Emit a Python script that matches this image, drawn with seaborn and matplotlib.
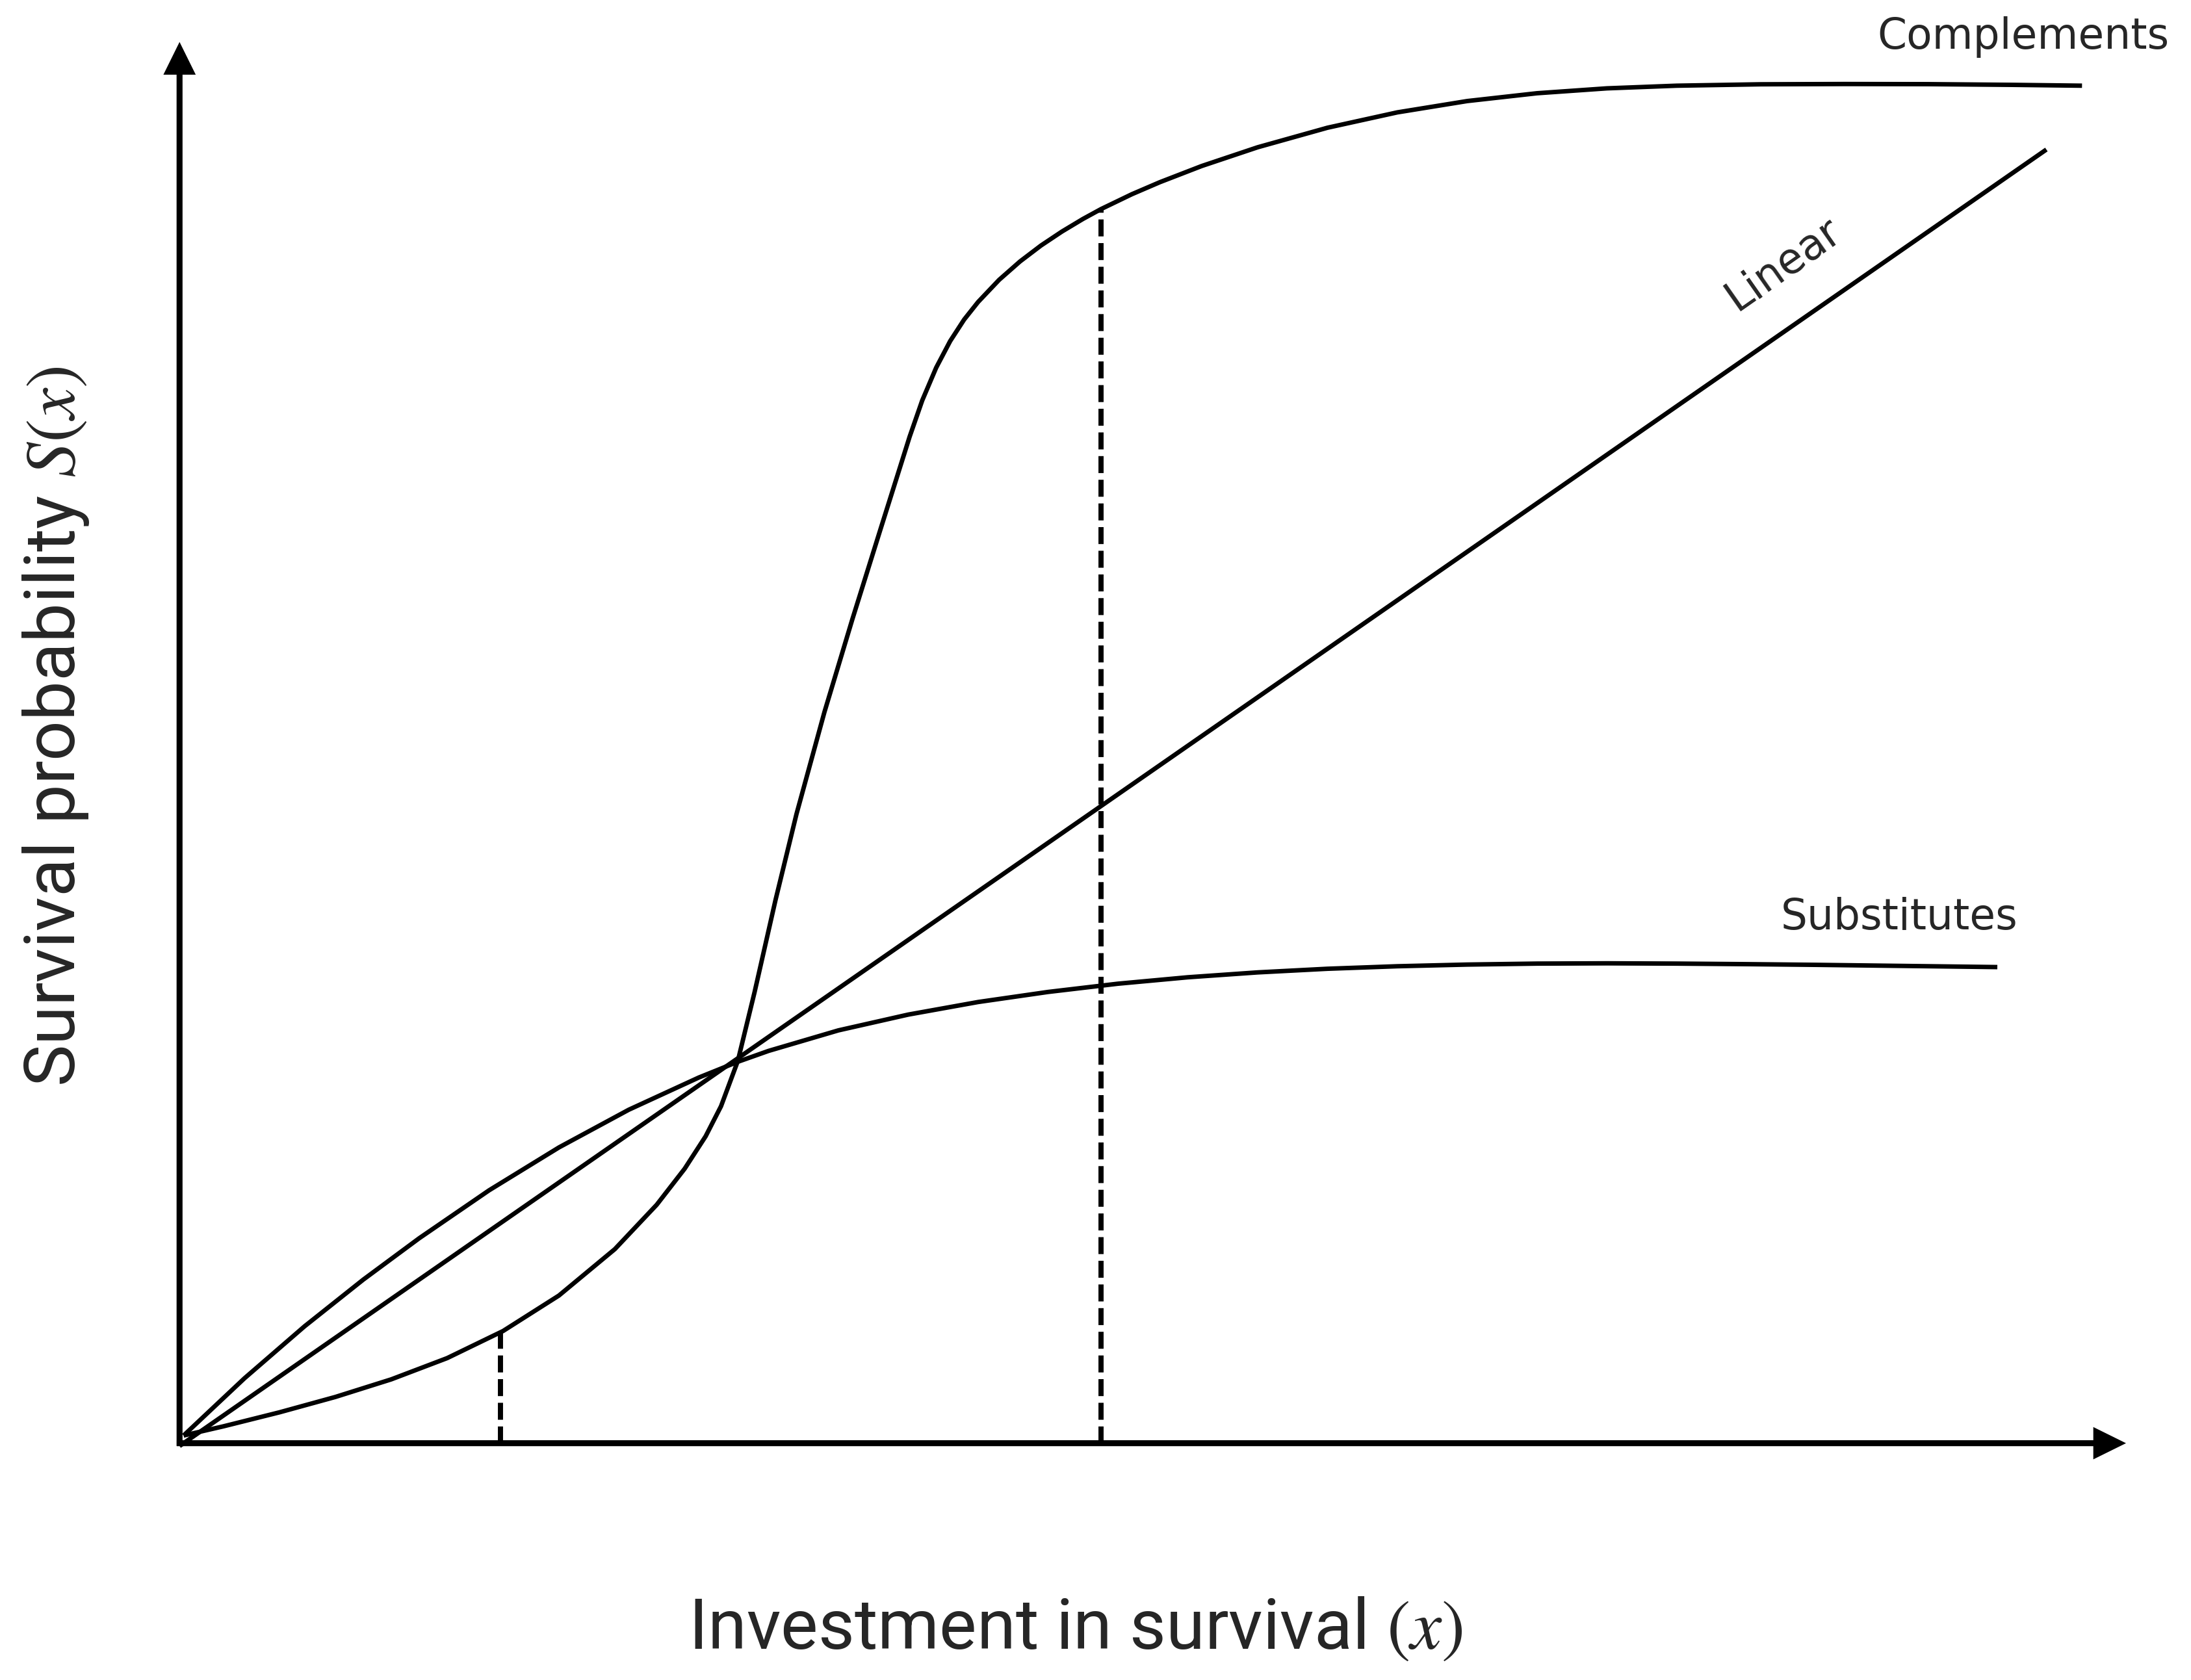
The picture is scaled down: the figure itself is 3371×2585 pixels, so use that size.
import numpy as np
import pandas as pd
import matplotlib
matplotlib.use("Agg")
import matplotlib.pyplot as plt
import seaborn as sns

# ---------------- data (schematic values) ----------------
comp_x = [0.029, 0.315, 0.715, 1.115, 1.515, 1.915, 2.315, 2.715, 3.115, 3.415,
          3.615, 3.765, 3.875, 3.995, 4.115, 4.265, 4.415, 4.615, 4.815, 5.015,
          5.225, 5.315, 5.415, 5.515, 5.615, 5.715, 5.865, 6.015, 6.165, 6.315,
          6.465, 6.595, 6.815, 7.015, 7.315, 7.715, 8.215, 8.715, 9.215, 9.715,
          10.215, 10.715, 11.315, 11.915, 12.515, 13.115, 13.615]
comp_y = [0.055, 0.121, 0.221, 0.331, 0.457, 0.609, 0.803, 1.057, 1.389, 1.707,
          1.965, 2.197, 2.412, 2.735, 3.228, 3.888, 4.503, 5.233, 5.898, 6.538,
          7.205, 7.464, 7.699, 7.889, 8.043, 8.169, 8.327, 8.459, 8.573, 8.673,
          8.763, 8.834, 8.940, 9.026, 9.142, 9.276, 9.416, 9.526, 9.607, 9.663,
          9.698, 9.717, 9.727, 9.729, 9.728, 9.723, 9.717]

lin_x = [0.0, 13.36]
lin_y = [-0.02, 9.26]

subs_x = [0.029, 0.465, 0.895, 1.315, 1.715, 2.215, 2.715, 3.215, 3.715, 3.995,
          4.215, 4.715, 5.215, 5.715, 6.215, 6.715, 7.215, 7.715, 8.215, 8.715,
          9.215, 9.715, 10.215, 10.715, 11.215, 11.715, 12.365, 13.009]
subs_y = [0.055, 0.465, 0.837, 1.171, 1.467, 1.810, 2.117, 2.387, 2.617, 2.730,
          2.808, 2.955, 3.068, 3.158, 3.230, 3.289, 3.335, 3.370, 3.396, 3.414,
          3.426, 3.433, 3.435, 3.433, 3.429, 3.424, 3.416, 3.408]

dash_x = [2.295, 6.595]
dash_top = [0.79, 8.834]

curve_names = ["Complements", "Linear", "Substitutes"]
x_label = "Investment in survival $(x)$"
y_label = "Survival probability $S(x)$"

# ---------------- figure ----------------
sns.set_theme(style="white")
plt.rcParams["font.family"] = ["DejaVu Sans"]
plt.rcParams["mathtext.fontset"] = "stix"

fig = plt.figure(figsize=(3371 / 300, 2586 / 300), dpi=300)
ax = fig.add_axes([0, 0, 1, 1])

df = pd.concat([
    pd.DataFrame({"x": comp_x, "y": comp_y, "curve": curve_names[0]}),
    pd.DataFrame({"x": lin_x, "y": lin_y, "curve": curve_names[1]}),
    pd.DataFrame({"x": subs_x, "y": subs_y, "curve": curve_names[2]}),
], ignore_index=True)

sns.lineplot(data=df, x="x", y="y", hue="curve", estimator=None, sort=False,
             palette={n: "black" for n in curve_names}, linewidth=1.65,
             legend=False, ax=ax)
for ln in ax.get_lines():
    ln.set_solid_capstyle("butt")
    ln.set_solid_joinstyle("round")

ax.vlines(dash_x, 0, dash_top, colors="black", linestyles=(0, (3.3, 1.3)),
          linewidth=1.9)

# axes with arrow heads
arrow_kw = dict(arrowstyle="-|>,head_length=0.85,head_width=0.42",
                mutation_scale=10, lw=2.2, color="black",
                shrinkA=0, shrinkB=0, joinstyle="miter", capstyle="butt")
ax.annotate("", xy=(13.93, 0), xytext=(-0.02, 0), arrowprops=arrow_kw)
ax.annotate("", xy=(0, 10.03), xytext=(0, -0.02), arrowprops=arrow_kw)

# curve labels
ax.text(13.195, 9.985, curve_names[0], ha="center", va="baseline", fontsize=15.5)
ax.text(11.526, 8.374, curve_names[1], ha="center", va="baseline", fontsize=15.5,
        rotation=35, rotation_mode="anchor")
ax.text(12.305, 3.685, curve_names[2], ha="center", va="baseline", fontsize=15.5)

# axis titles
ax.text(6.413, -1.465, x_label, ha="center", va="baseline", fontsize=26,
        family=["Roboto", "DejaVu Sans"])
ax.text(-0.75, 5.135, y_label, ha="center", va="baseline", fontsize=26,
        rotation=90, rotation_mode="anchor", family=["Roboto", "DejaVu Sans"])

ax.set_xlim(-1.285, 14.395)
ax.set_ylim(-1.695, 10.335)
ax.set_axis_off()

fig.savefig("out.png", dpi=300)
